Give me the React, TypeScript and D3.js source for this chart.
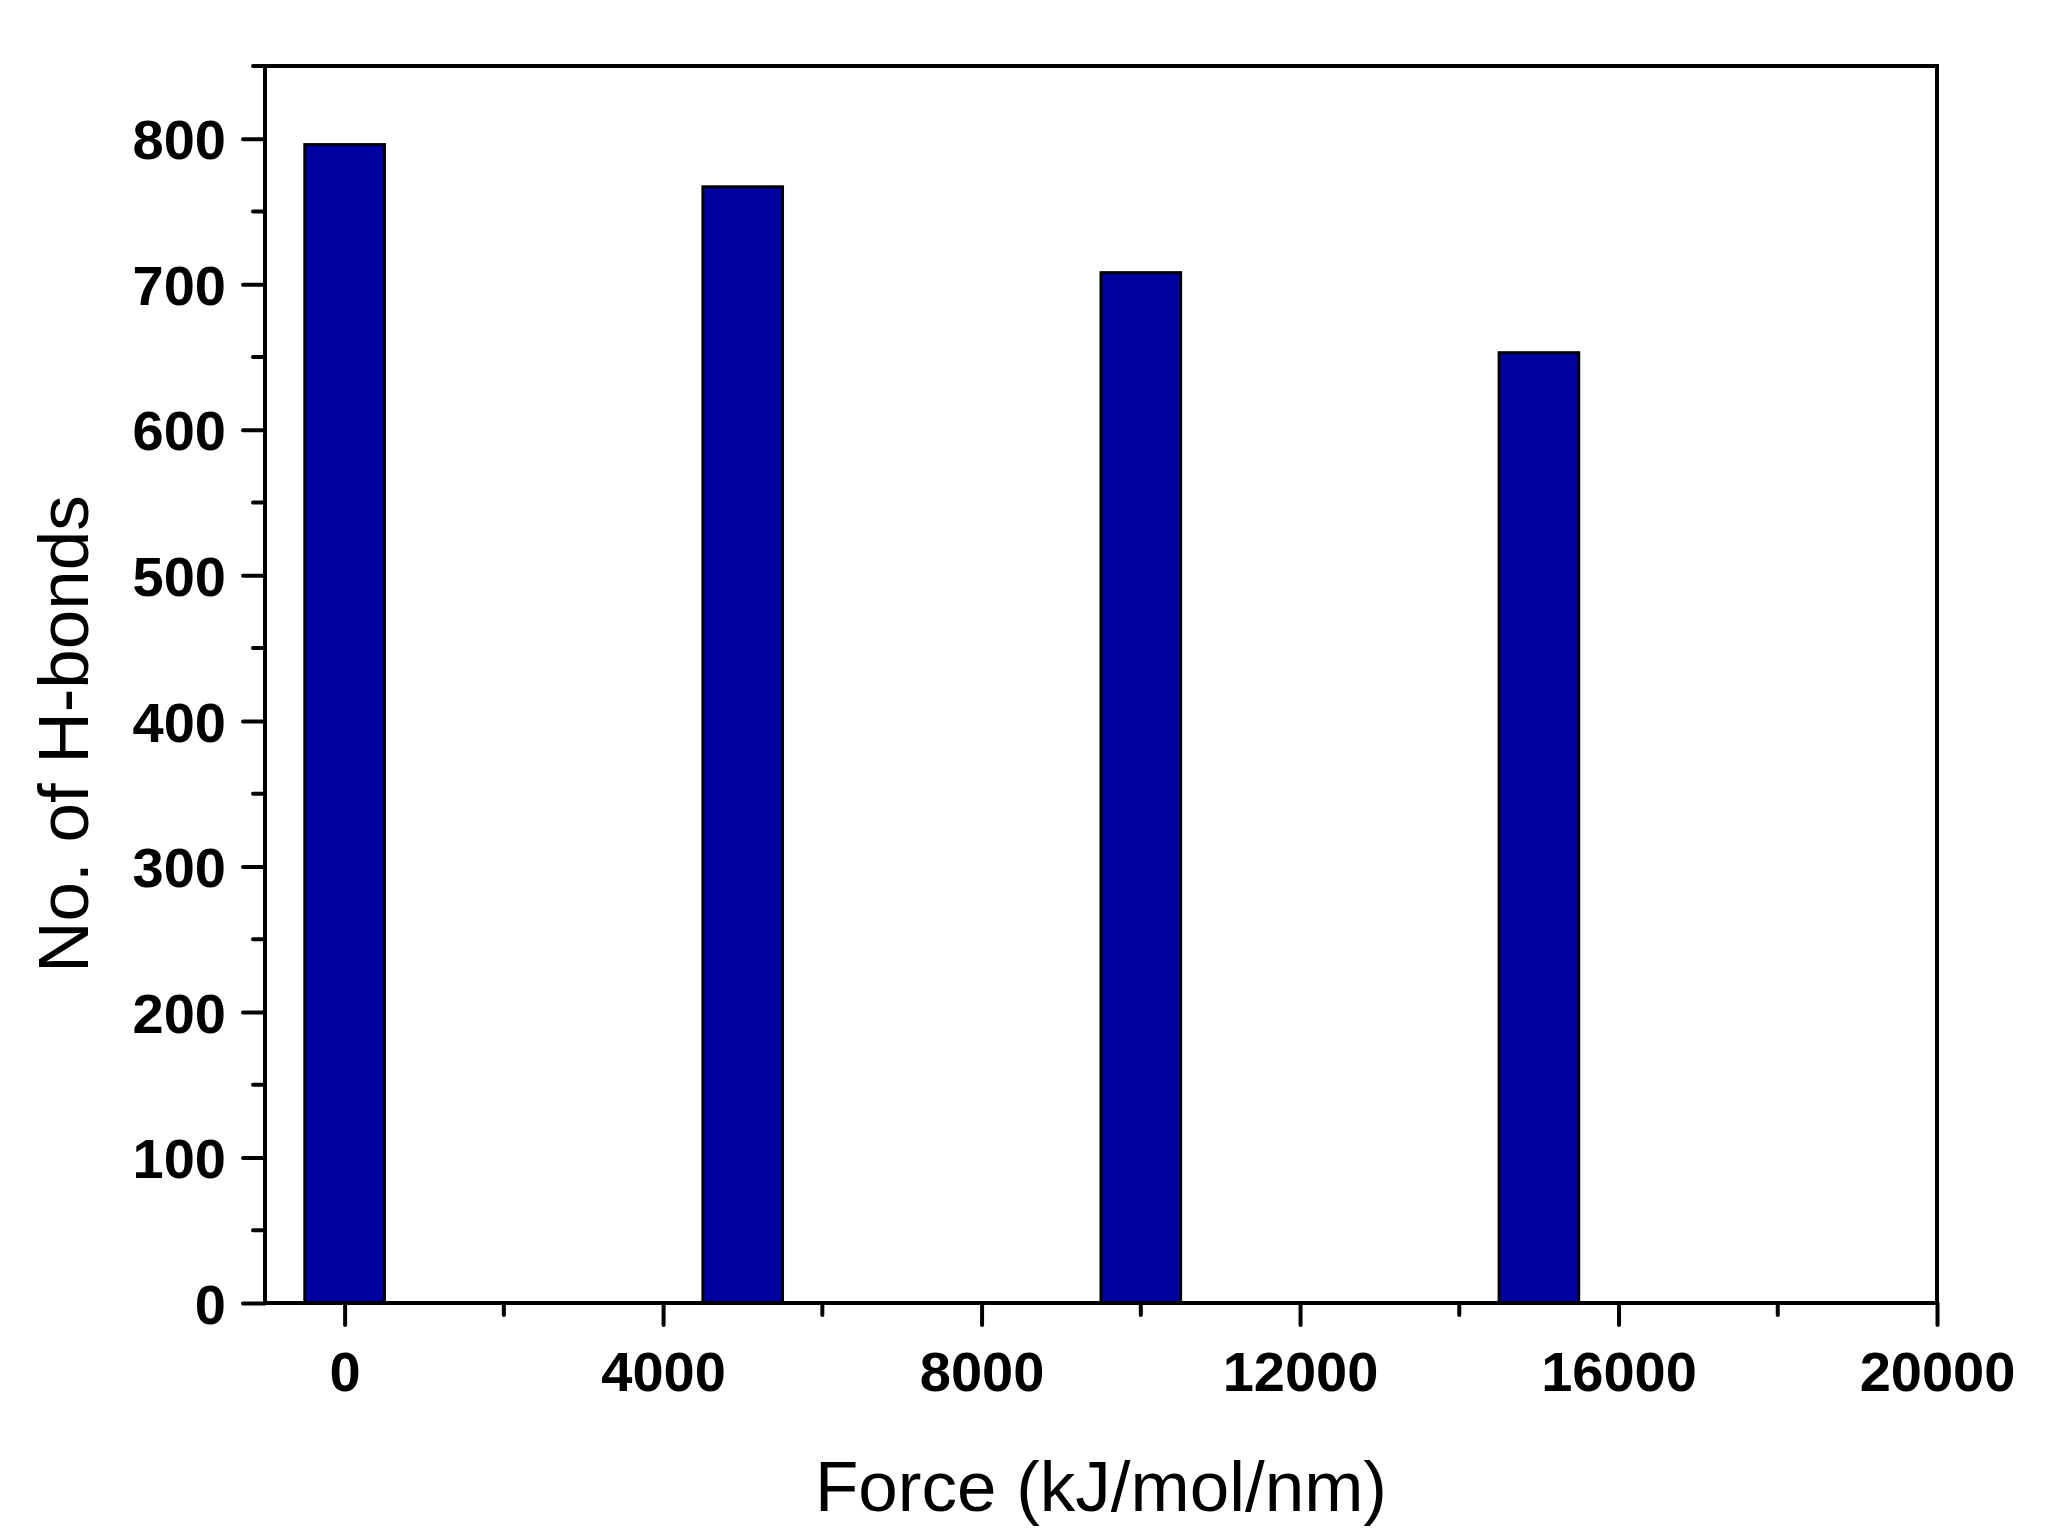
import React, { useEffect, useRef } from 'react';
import * as d3 from 'd3';

// Force applied (kJ/mol/nm) and number of H-bonds counted
const forces = [0, 5000, 10000, 15000];
const hbonds = [796, 767, 708, 653];
const xMajorTicks = [0, 4000, 8000, 12000, 16000, 20000];
const xMinorTicks = [2000, 6000, 10000, 14000, 18000];
const yMajorTicks = [0, 100, 200, 300, 400, 500, 600, 700, 800];
const yMinorTicks = [50, 150, 250, 350, 450, 550, 650, 750, 850];

const tickFont = "'Liberation Sans', Arial, sans-serif";
const titleFont = "'Liberation Sans', Arial, Helvetica, sans-serif";

const App: React.FC = () => {
  const svgRef = useRef<SVGSVGElement>(null);

  useEffect(() => {
    if (!svgRef.current) return;
    const width = 2046;
    const height = 1530;
    const margin = { top: 66, right: 109, bottom: 227, left: 265 };

    const svg = d3.select(svgRef.current);
    svg.selectAll('*').remove();

    const x = d3
      .scaleLinear()
      .domain([-1000, 20000])
      .range([margin.left, width - margin.right]);
    const y = d3
      .scaleLinear()
      .domain([0, 850])
      .range([height - margin.bottom, margin.top]);

    const barWidth = 1000;

    // bars
    svg
      .append('g')
      .selectAll('rect')
      .data(forces)
      .enter()
      .append('rect')
      .attr('x', (d) => x(d - barWidth / 2))
      .attr('y', (d, i) => y(hbonds[i]))
      .attr('width', x(barWidth) - x(0))
      .attr('height', (d, i) => y(0) - y(hbonds[i]))
      .attr('fill', '#0000a0')
      .attr('stroke', '#000')
      .attr('stroke-width', 3);

    const bottomAxis = svg.append('g').attr('transform', `translate(0,${y(0)})`);
    bottomAxis
      .call(d3.axisBottom(x).tickValues(xMajorTicks).tickSize(22).tickSizeOuter(0).tickFormat((d) => String(d)))
      .call((g) => g.select('.domain').remove());
    bottomAxis
      .selectAll('.tick line')
      .attr('stroke', '#000')
      .attr('stroke-width', 4)
      .attr('stroke-linecap', 'round');
    bottomAxis
      .selectAll('.tick text')
      .attr('y', 88)
      .attr('dy', 0)
      .style('font-family', tickFont)
      .style('font-size', '56px')
      .style('font-weight', 'bold')
      .style('fill', '#000');
    bottomAxis
      .append('g')
      .selectAll('line')
      .data(xMinorTicks)
      .enter()
      .append('line')
      .attr('x1', (d) => x(d))
      .attr('x2', (d) => x(d))
      .attr('y1', 0)
      .attr('y2', 12)
      .attr('stroke', '#000')
      .attr('stroke-width', 4)
      .attr('stroke-linecap', 'round');

    const leftAxis = svg.append('g').attr('transform', `translate(${x(-1000)},0)`);
    leftAxis
      .call(d3.axisLeft(y).tickValues(yMajorTicks).tickSize(22).tickSizeOuter(0))
      .call((g) => g.select('.domain').remove());
    leftAxis
      .selectAll('.tick line')
      .attr('stroke', '#000')
      .attr('stroke-width', 4)
      .attr('stroke-linecap', 'round');
    leftAxis
      .selectAll('.tick text')
      .attr('x', -39)
      .attr('dy', '0.36em')
      .style('font-family', tickFont)
      .style('font-size', '56px')
      .style('font-weight', 'bold')
      .style('fill', '#000');
    leftAxis
      .append('g')
      .selectAll('line')
      .data(yMinorTicks)
      .enter()
      .append('line')
      .attr('x1', 0)
      .attr('x2', -12)
      .attr('y1', (d) => y(d))
      .attr('y2', (d) => y(d))
      .attr('stroke', '#000')
      .attr('stroke-width', 4)
      .attr('stroke-linecap', 'round');

    // frame
    svg
      .append('rect')
      .attr('x', x(-1000))
      .attr('y', y(850))
      .attr('width', x(20000) - x(-1000))
      .attr('height', y(0) - y(850))
      .attr('fill', 'none')
      .attr('stroke', '#000')
      .attr('stroke-width', 4);

    // axis titles
    svg
      .append('text')
      .attr('x', (x(-1000) + x(20000)) / 2)
      .attr('y', 1511)
      .attr('text-anchor', 'middle')
      .style('font-family', titleFont)
      .style('font-size', '71px')
      .style('fill', '#000')
      .text('Force (kJ/mol/nm)');

    svg
      .append('text')
      .attr('transform', `translate(88,734) rotate(-90)`)
      .attr('text-anchor', 'middle')
      .style('font-family', titleFont)
      .style('font-size', '71px')
      .style('fill', '#000')
      .text('No. of H-bonds');
  }, []);

  return (
    <svg
      ref={svgRef}
      width={2046}
      height={1530}
      style={{ position: 'absolute', left: 0, top: 0, background: '#fff' }}
    />
  );
};

export default App;
